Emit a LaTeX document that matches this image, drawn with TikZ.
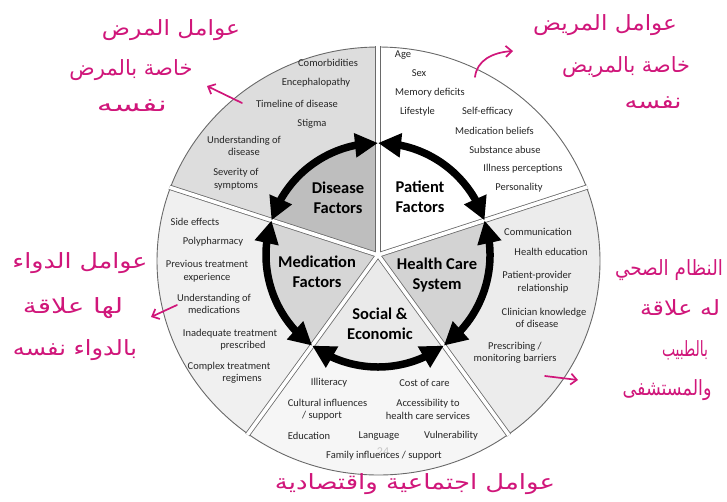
\documentclass[tikz,border=0pt]{standalone}
\usepackage{fontspec}
\setmainfont{Carlito}
\newfontfamily\arabicfont[Script=Arabic]{DejaVu Sans}
\TeXXeTstate=1
\usetikzlibrary{arrows.meta,bending}
\definecolor{ink}{RGB}{208,22,122}
\definecolor{dIn}{RGB}{190,190,190}
\definecolor{dOut}{RGB}{221,221,221}
\definecolor{mIn}{RGB}{214,214,214}
\definecolor{mOut}{RGB}{240,240,240}
\definecolor{sIn}{RGB}{234,234,234}
\definecolor{sOut}{RGB}{246,246,246}
\definecolor{hIn}{RGB}{211,211,211}
\definecolor{hOut}{RGB}{236,236,236}
\definecolor{rim}{RGB}{105,105,105}
\newcommand{\arw}[2]{\resizebox{#1pt}{\height}{#2}}
\begin{document}
\begin{tikzpicture}[x=1pt,y=-1pt,
  lbl/.style={font=\fontsize{10.5}{12.5}\selectfont, text=black!85, align=center, inner sep=0},
  big/.style={font=\fontsize{16.5}{20}\selectfont\bfseries, text=black, align=center, inner sep=0},
  ar/.style={text=ink, inner sep=0, font=\arabicfont\fontsize{21}{24}\selectfont},
  inkarrow/.style={draw=ink, line width=1.7pt, line cap=round, -{Straight Barb[length=6pt,width=11pt]}},
  bigarrow/.style={line width=7.5pt, {Triangle[length=23pt,width=23pt]}-{Triangle[length=23pt,width=23pt]}},
  divout/.style={draw=rim, line width=5.2pt},
  divin/.style={draw=white, line width=3.6pt},
]
\useasboundingbox (0,0) rectangle (727,501);
\coordinate (O) at (378,255);
\coordinate (E) at (378.5,261);

% outer ring sectors
\begin{scope}
  \clip (E) ellipse [x radius=221.5, y radius=214];
  \fill[dOut] (O) -- ++(-90:300) arc[start angle=-90, end angle=-162, radius=300] -- cycle;
  \fill[mOut] (O) -- ++(-162:300) arc[start angle=-162, end angle=-234, radius=300] -- cycle;
  \fill[sOut] (O) -- ++(-234:300) arc[start angle=-234, end angle=-306, radius=300] -- cycle;
  \fill[hOut] (O) -- ++(-306:300) arc[start angle=-306, end angle=-378, radius=300] -- cycle;
  \fill[white] (O) -- ++(-18:300) arc[start angle=-18, end angle=-90, radius=300] -- cycle;
\end{scope}
% inner sectors
\fill[dIn] (O) -- ++(-90:112) arc[start angle=-90, end angle=-162, radius=112] -- cycle;
\fill[mIn] (O) -- ++(-162:112) arc[start angle=-162, end angle=-234, radius=112] -- cycle;
\fill[sIn] (O) -- ++(-234:112) arc[start angle=-234, end angle=-306, radius=112] -- cycle;
\fill[hIn] (O) -- ++(-306:112) arc[start angle=-306, end angle=-378, radius=112] -- cycle;

% outline
\draw[rim, line width=0.9pt] (E) ellipse [x radius=221.5, y radius=214];

% dividers
\begin{scope}
  \clip (E) ellipse [x radius=222.5, y radius=215];
  \foreach \a in {18,90,162,234,306} \draw[divout] (O) -- ++(-\a:260);
  \foreach \a in {18,90,162,234,306} \draw[divin] (O) -- ++(-\a:262);
\end{scope}

% junctions on the arrow ring
\path (O) ++(-90:112) coordinate (J90);
\path (O) ++(-162:112) coordinate (J162);
\path (O) ++(-234:112) coordinate (J234);
\path (O) ++(-306:112) coordinate (J306);
\path (O) ++(-18:112) coordinate (J18);

\draw[bigarrow] (J90) arc[start angle=-90, end angle=-162, radius=112];
\draw[bigarrow] (J162) arc[start angle=-162, end angle=-234, radius=112];
\draw[bigarrow] (J234) arc[start angle=-234, end angle=-306, radius=112];
\draw[bigarrow] (J306) arc[start angle=-306, end angle=-378, radius=112];
\draw[bigarrow] (J18) arc[start angle=-18, end angle=-90, radius=112];

% central labels
\node[big] (disease) at (338,198) {Disease\\Factors};
\node[big] (patient) at (420,197) {Patient\\Factors};
\node[big] (medication) at (317,272) {Medication\\Factors};
\node[big] (health) at (437,275) {Health Care\\System};
\node[big] (social) at (380,324) {Social \&\\Economic};

% disease factors
\node[lbl] (d1) at (328,63) {Comorbidities};
\node[lbl] (d2) at (316,83) {Encephalopathy};
\node[lbl] (d3) at (297,104) {Timeline of disease};
\node[lbl] (d4) at (312,124) {Stigma};
\node[lbl] (d5) at (244,146) {Understanding of\\disease};
\node[lbl] (d6) at (236,179) {Severity of\\symptoms};

% patient factors
\node[lbl] (p1) at (403,55) {Age};
\node[lbl] (p2) at (419,73) {Sex};
\node[lbl] (p3) at (430,93) {Memory deficits};
\node[lbl] (p4) at (417.5,112) {Lifestyle};
\node[lbl] (p5) at (487.5,112) {Self-efficacy};
\node[lbl] (p6) at (494.5,131) {Medication beliefs};
\node[lbl] (p7) at (505,150) {Substance abuse};
\node[lbl] (p8) at (523,169) {Illness perceptions};
\node[lbl] (p9) at (519,188) {Personality};

% medication factors
\node[lbl] (m1) at (195,222) {Side effects};
\node[lbl] (m2) at (213,242) {Polypharmacy};
\node[lbl] (m3) at (207,271) {Previous treatment\\experience};
\node[lbl] (m4) at (214,304) {Understanding of\\medications};
\node[lbl] (m5) at (230,339.5) {Inadequate treatment\\\hspace*{26pt}prescribed};
\node[lbl] (m6) at (229,372.5) {Complex treatment\\\hspace*{26pt}regimens};

% health care system
\node[lbl] (h1) at (538,232) {Communication};
\node[lbl] (h2) at (551,252) {Health education};
\node[lbl] (h3) at (537,282) {Patient-provider\\\hspace*{12pt}relationship};
\node[lbl] (h4) at (544,318) {Clinician knowledge\\of disease\hspace*{14pt}};
\node[lbl] (h5) at (515,352.5) {Prescribing /\\monitoring barriers};

% social & economic
\node[font=\fontsize{12}{12}\selectfont, text=black!22, inner sep=0] (pg) at (383,452) {24};
\node[lbl] (s1) at (329,383) {Illiteracy};
\node[lbl] (s2) at (424.5,383) {Cost of care};
\node[lbl] (s3) at (327.5,409.5) {Cultural influences\\/ support\hspace*{11pt}};
\node[lbl] (s4) at (428,409.5) {Accessibility to\\health care services};
\node[lbl] (s5) at (309,436) {Education};
\node[lbl] (s6) at (379,436) {Language};
\node[lbl] (s7) at (451,436) {Vulnerability};
\node[lbl] (s8) at (384,456) {Family influences / support};

% handwritten Arabic notes
\node[ar] (tl1) at (171,30) {\arw{138}{\beginR عوامل المرض\endR}};
\node[ar] (tl2) at (131,70) {\arw{123}{\beginR خاصة بالمرض\endR}};
\node[ar] (tl3) at (132,106) {\arw{70}{\beginR نفسه\endR}};
\node[ar] (tr1) at (605,25) {\arw{144}{\beginR عوامل المريض\endR}};
\node[ar] (tr2) at (626,67) {\arw{128}{\beginR خاصة بالمريض\endR}};
\node[ar] (tr3) at (653,103) {\arw{57}{\beginR نفسه\endR}};
\node[ar] (l1) at (80,263) {\arw{135}{\beginR عوامل الدواء\endR}};
\node[ar] (l2) at (73,308) {\arw{100}{\beginR لها علاقة\endR}};
\node[ar] (l3) at (75,350) {\arw{124}{\beginR بالدواء نفسه\endR}};
\node[ar] (r1) at (669,270) {\arw{108}{\beginR النظام الصحي\endR}};
\node[ar] (r2) at (680,308) {\arw{80}{\beginR له علاقة\endR}};
\node[ar] (r3) at (685,350) {\arw{46}{\beginR بالطبيب\endR}};
\node[ar] (r4) at (667,390) {\arw{89}{\beginR والمستشفى\endR}};
\node[ar] (b1) at (415,484) {\arw{280}{\beginR عوامل اجتماعية واقتصادية\endR}};

% handwritten arrows
\coordinate (tlA) at (242,103);
\coordinate (tlB) at (207,86);
\coordinate (trA) at (475,77);
\coordinate (trB) at (513,51);
\coordinate (lA) at (177,305);
\coordinate (lB) at (151,317);
\coordinate (rA) at (545,376);
\coordinate (rB) at (578,380);
\draw[inkarrow] (tlA) -- (tlB);
\draw[inkarrow] (trA) .. controls (477,60) and (493,52) .. (trB);
\draw[inkarrow] (lA) -- (lB);
\draw[inkarrow] (rA) -- (rB);
\end{tikzpicture}
\end{document}
